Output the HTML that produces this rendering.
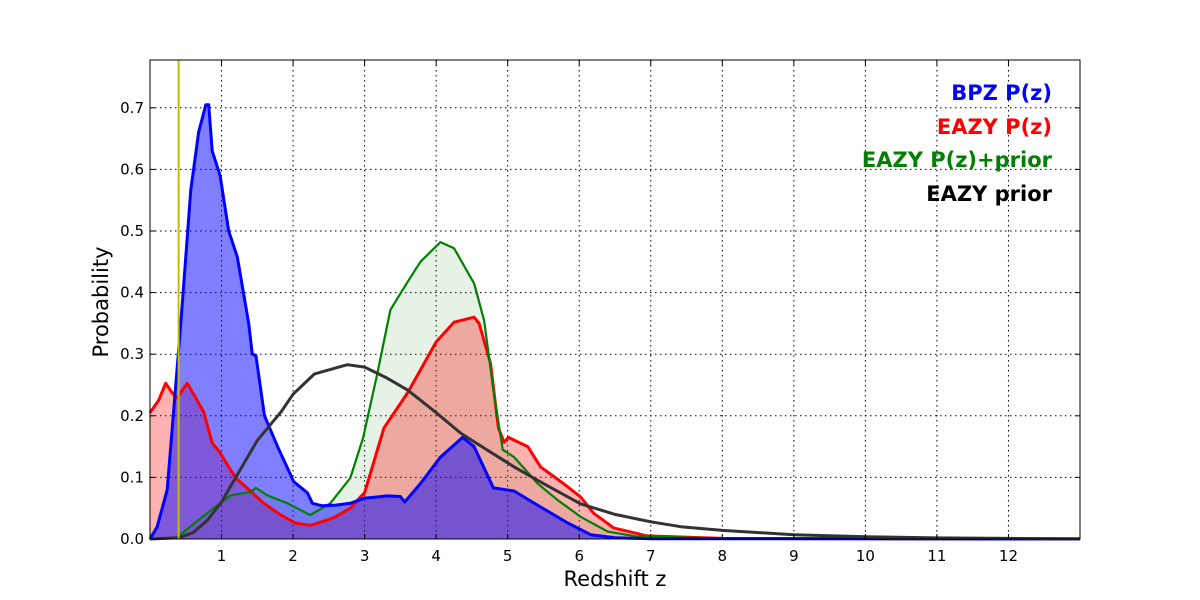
<!DOCTYPE html>
<html><head><meta charset="utf-8">
<style>
html,body{margin:0;padding:0;background:#fff;}
svg{display:block;font-family:"DejaVu Sans","Liberation Sans",sans-serif;}
</style></head>
<body>
<svg id="chart" width="1200" height="600" viewBox="0 0 1200 600" xmlns="http://www.w3.org/2000/svg">
<rect x="0" y="0" width="1200" height="600" fill="#fff"/>
<g id="grid"></g>
<g id="fills"></g>
<g id="lines"></g>
<rect x="150" y="60" width="930" height="479" fill="none" stroke="#000" stroke-width="1"/>
<g id="ticks"></g>
<text x="615" y="586" font-size="21" text-anchor="middle">Redshift z</text>
<text x="108" y="302" font-size="21" text-anchor="middle" transform="rotate(-90 108 302)">Probability</text>
<g font-weight="bold" font-size="21" text-anchor="end">
<text x="1052" y="100" fill="#0000ff">BPZ P(z)</text>
<text x="1052" y="134" fill="#ff0000">EAZY P(z)</text>
<text x="1052" y="167" fill="#008000">EAZY P(z)+prior</text>
<text x="1052" y="201" fill="#000">EAZY prior</text>
</g>
</svg>
<script>
const xTicks=[1,2,3,4,5,6,7,8,9,10,11,12];
const yTicks=[0,0.1,0.2,0.3,0.4,0.5,0.6,0.7];
const yTickLabels=["0.0","0.1","0.2","0.3","0.4","0.5","0.6","0.7"];
const bpzZ=[0,0.1,0.24,0.43,0.57,0.68,0.78,0.82,0.87,0.98,1.1,1.22,1.38,1.43,1.48,1.6,1.79,2.01,2.2,2.27,2.4,2.6,2.8,2.99,3.32,3.5,3.56,3.78,4.06,4.37,4.53,4.8,5.09,5.46,5.84,6.16,6.5,7,13];
const bpzP=[0,0.02,0.08,0.35,0.567,0.66,0.705,0.705,0.63,0.59,0.5,0.458,0.35,0.30,0.298,0.2,0.148,0.093,0.075,0.058,0.054,0.055,0.058,0.066,0.07,0.069,0.06,0.09,0.133,0.165,0.15,0.083,0.078,0.052,0.026,0.007,0.002,0.0005,0];
const eazyZ=[0,0.12,0.22,0.31,0.38,0.52,0.63,0.75,0.87,0.98,1.1,1.2,1.43,1.59,1.83,2.03,2.24,2.56,2.8,2.94,3.0,3.27,3.6,4.0,4.25,4.53,4.6,4.76,4.87,4.95,5.01,5.28,5.46,5.78,6.02,6.2,6.48,6.95,8,13];
const eazyP=[0.205,0.225,0.253,0.237,0.229,0.253,0.231,0.206,0.156,0.14,0.117,0.099,0.075,0.058,0.039,0.026,0.022,0.034,0.05,0.068,0.075,0.18,0.237,0.32,0.352,0.36,0.35,0.285,0.18,0.157,0.165,0.15,0.117,0.09,0.068,0.042,0.018,0.005,0.001,0];
const combZ=[0,0.37,0.8,1.13,1.4,1.48,1.64,1.92,2.24,2.52,2.8,2.98,3.18,3.36,3.6,3.78,4.06,4.25,4.53,4.67,4.8,4.93,5.09,5.42,5.7,6.02,6.4,6.8,8,13];
const combP=[0.001,0.002,0.042,0.071,0.076,0.083,0.071,0.058,0.039,0.058,0.099,0.165,0.27,0.372,0.417,0.45,0.482,0.472,0.415,0.355,0.242,0.145,0.133,0.09,0.063,0.036,0.012,0.004,0.001,0];
const priorZ=[0,0.4,0.6,0.8,1.0,1.2,1.5,1.83,2.0,2.3,2.76,3.0,3.3,3.6,4.0,4.34,4.5,5.09,5.5,6.02,6.5,7,7.42,8,9,10,11,12,13];
const priorP=[0,0.002,0.01,0.03,0.06,0.1,0.16,0.206,0.235,0.268,0.283,0.279,0.262,0.242,0.205,0.172,0.16,0.117,0.09,0.057,0.04,0.028,0.02,0.014,0.007,0.0035,0.0018,0.0009,0.0004];
const markerZ=[0.4];

const X0=150,X1=1080,Y0=539,Y1=60,ZMAX=13,PMAX=(539-60)/616;
function sx(z){return X0+z/ZMAX*(X1-X0);}
function sy(p){return Y0-p/PMAX*(Y0-Y1);}
const NS="http://www.w3.org/2000/svg";
function mk(tag,attrs,parent){const e=document.createElementNS(NS,tag);for(const k in attrs)e.setAttribute(k,attrs[k]);parent.appendChild(e);return e;}
const grid=document.getElementById('grid'),ticks=document.getElementById('ticks'),fills=document.getElementById('fills'),lines=document.getElementById('lines');
xTicks.forEach(t=>{
  const x=sx(t);
  const g=mk('line',{x1:x,x2:x,y1:Y1,y2:Y0,stroke:'#000','stroke-width':1,'stroke-dasharray':'1.5,3.5'},grid);
  
  
  const tk=mk('line',{x1:x,x2:x,y1:Y0,y2:Y0-5,stroke:'#000'},ticks);
  
  
  const tk2=mk('line',{x1:x,x2:x,y1:Y1,y2:Y1+5,stroke:'#000'},ticks);
  
  
  const lb=mk('text',{x:x,y:Y0+22,'font-size':15,'text-anchor':'middle'},ticks);
  lb.textContent=String(t);
  
  
});
yTicks.forEach((t,i)=>{
  const y=sy(t);
  if(i>0){const g=mk('line',{x1:X0,x2:X1,y1:y,y2:y,stroke:'#000','stroke-width':1,'stroke-dasharray':'1.5,3.5'},grid);
  
  }
  const tk=mk('line',{x1:X0,x2:X0+5,y1:y,y2:y,stroke:'#000'},ticks);
  
  
  const tk2=mk('line',{x1:X1,x2:X1-5,y1:y,y2:y,stroke:'#000'},ticks);
  
  
  const lb=mk('text',{x:X0-6,y:y+5,'font-size':15,'text-anchor':'end'},ticks);
  lb.textContent=yTickLabels[i];
  
  
});
function pathD(zs,ps){return zs.map((z,i)=>(i?'L':'M')+sx(z).toFixed(1)+','+sy(ps[i]).toFixed(1)).join(' ');}
function fillD(zs,ps){return pathD(zs,ps)+' L'+sx(zs[zs.length-1]).toFixed(1)+','+Y0+' L'+sx(zs[0]).toFixed(1)+','+Y0+' Z';}
const f1=mk('path',{d:fillD(combZ,combP),fill:'rgba(0,128,0,0.1)'},fills);


const f2=mk('path',{d:fillD(eazyZ,eazyP),fill:'rgba(255,0,0,0.3)'},fills);


const f3=mk('path',{d:fillD(bpzZ,bpzP),fill:'rgba(0,0,255,0.5)'},fills);


const l1=mk('path',{d:pathD(eazyZ,eazyP),fill:'none',stroke:'#ff0000','stroke-width':3,'stroke-linejoin':'round'},lines);


const l2=mk('path',{d:pathD(combZ,combP),fill:'none',stroke:'#008000','stroke-width':2.2,'stroke-linejoin':'round'},lines);


const l3=mk('path',{d:pathD(bpzZ,bpzP),fill:'none',stroke:'#0000ff','stroke-width':3,'stroke-linejoin':'round'},lines);


const l4=mk('path',{d:pathD(priorZ,priorP),fill:'none',stroke:'#333','stroke-width':3,'stroke-linejoin':'round'},lines);


markerZ.forEach(z=>{
  const m=mk('line',{x1:sx(z),x2:sx(z),y1:Y1,y2:Y0,stroke:'#bfbf00','stroke-width':2},lines);
  
  
});
</script>
</body></html>
